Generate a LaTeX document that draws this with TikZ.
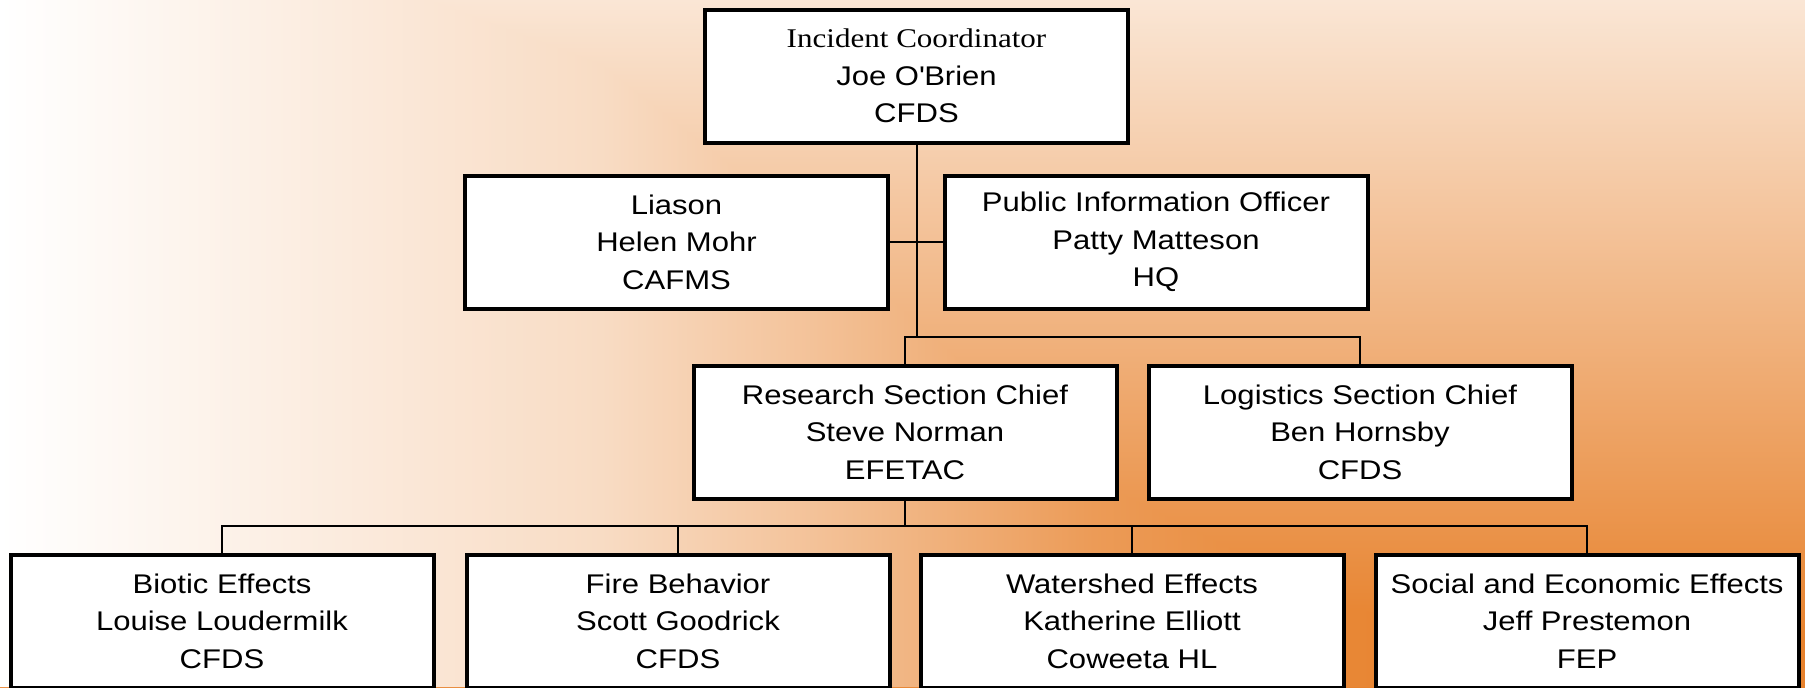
\documentclass[tikz,border=0pt]{standalone}
\usepackage{fontspec}
\setmainfont{Liberation Sans}[FakeStretch=1.15]
\newfontfamily\rolefont{Liberation Serif}[FakeStretch=1.15]
\definecolor{orgbg}{RGB}{231,130,45}
\pgfdeclarehorizontalshading{bgacross}{100bp}{color(0bp)=(white); color(25bp)=(white);
  color(41.62bp)=(white!72!orgbg); color(47.33bp)=(white!52!orgbg);
  color(55.30bp)=(white!20!orgbg); color(62.40bp)=(white!4!orgbg);
  color(66.55bp)=(orgbg); color(100bp)=(orgbg)}
\pgfdeclareverticalshading{bgdown}{100bp}{color(0bp)=(orgbg); color(28.42bp)=(orgbg);
  color(75bp)=(white!80!orgbg); color(100bp)=(white!80!orgbg)}
\tikzset{
  post/.style={
    draw=black, fill=white, line width=2pt,
    minimum width=211.5pt, minimum height=66.5pt,
    inner sep=1pt, align=center,
    font=\fontsize{13.5pt}{18.75pt}\selectfont
  },
  link/.style={line width=1pt, black}
}

\begin{document}
\begin{tikzpicture}[x=0.5pt,y=-0.5pt]
  \clip (0,0) rectangle (1805,687);
  \shade[shading=bgdown] (0,0) rectangle (1805,687);
  \begin{scope}
    \clip (0,0) -- (428.6,0) -- (600,64) -- (806,224) -- (1094,480) -- (1350,608)
      -- (1500,640) -- (1500,687) -- (0,687) -- cycle;
    \shade[shading=bgacross] (0,0) rectangle (1805,687);
  \end{scope}

  \node[post] (ic) at (916.5,76) {{\rolefont Incident Coordinator}\\Joe O\textquotesingle Brien\\CFDS};
  \node[post] (liaison) at (676.5,242) {Liason\\Helen Mohr\\CAFMS};
  \node[post] (pio) at (1156,242) {Public Information Officer\\Patty Matteson\\HQ};
  \node[post] (research) at (905,432) {Research Section Chief\\Steve Norman\\EFETAC};
  \node[post] (logistics) at (1360,432) {Logistics Section Chief\\Ben Hornsby\\CFDS};
  \node[post] (biotic) at (222,621) {Biotic Effects\\Louise Loudermilk\\CFDS};
  \node[post] (fire) at (678,621) {Fire Behavior\\Scott Goodrick\\CFDS};
  \node[post] (watershed) at (1132,621) {Watershed Effects\\Katherine Elliott\\Coweeta HL};
  \node[post] (social) at (1587,621) {Social and Economic Effects\\Jeff Prestemon\\FEP};

  \draw[link] (liaison) -- (pio);
  \draw[link] (ic.south) -- ++(0,192.5) coordinate (upbus);
  \foreach \n in {research,logistics}
    \draw[link] (upbus) -| (\n.north);
  \draw[link] (research.south) -- ++(0,25.5) coordinate (lowbus);
  \foreach \n in {biotic,fire,watershed,social}
    \draw[link] (lowbus) -| (\n.north);
\end{tikzpicture}
\end{document}
